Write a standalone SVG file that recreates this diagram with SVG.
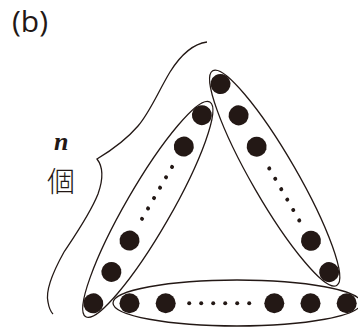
<svg xmlns="http://www.w3.org/2000/svg" width="358" height="329" viewBox="0 0 358 329">
<style>
.ring{fill:none;stroke:#231815;stroke-width:1.3}
.dot{fill:#231815}
.sm{fill:#231815}
.lbl{fill:#231815}
</style>
<rect width="358" height="329" fill="#ffffff"/>
<text class="lbl" x="12" y="32" font-family="'Open Sans', 'Noto Sans', sans-serif" font-size="30">(b)</text>
<g id="label-n">
<text class="lbl" x="54" y="150" font-family="'Liberation Serif', serif" font-style="italic" font-weight="bold" font-size="26">n</text>
<text class="lbl" x="47" y="192" font-family="'Noto Sans CJK JP', 'Noto Sans CJK SC', sans-serif" font-size="28" font-weight="300">個</text>
</g>
<g id="connectors">
<path id="brace" class="ring" d="M207,42 C192,44 180,56 170,72 C158,92 150,112 138,126 C126,140 112,150 97,159 C104,168 103,180 98,194 C90,214 76,234 64,252 C54,270 45,290 48,302 C49,308 50,311 53,314"/>
</g>
<g id="group-left">
<ellipse class="ring" cx="0" cy="0" rx="124" ry="22.5" transform="translate(147.8,209.4) rotate(-60)"/>
<g transform="translate(93.3,303.3) rotate(-60)">
<circle class="dot" cx="0" cy="0" r="10"/>
<circle class="dot" cx="36.2" cy="0" r="10"/>
<circle class="dot" cx="72.4" cy="0" r="10"/>
<circle class="sm" cx="97.5" cy="0" r="2"/>
<circle class="sm" cx="109.5" cy="0" r="2"/>
<circle class="sm" cx="121.5" cy="0" r="2"/>
<circle class="sm" cx="133.5" cy="0" r="2"/>
<circle class="sm" cx="145.5" cy="0" r="2"/>
<circle class="sm" cx="157.5" cy="0" r="2"/>
<circle class="dot" cx="181" cy="0" r="10"/>
<circle class="dot" cx="217.2" cy="0" r="10"/>
</g>
</g>
<g id="group-right">
<ellipse class="ring" cx="0" cy="0" rx="124" ry="22.5" transform="translate(274.7,178.1) rotate(60)"/>
<g transform="translate(220.5,84) rotate(60)">
<circle class="dot" cx="0" cy="0" r="10"/>
<circle class="dot" cx="36.2" cy="0" r="10"/>
<circle class="dot" cx="72.4" cy="0" r="10"/>
<circle class="sm" cx="97.5" cy="0" r="2"/>
<circle class="sm" cx="109.5" cy="0" r="2"/>
<circle class="sm" cx="121.5" cy="0" r="2"/>
<circle class="sm" cx="133.5" cy="0" r="2"/>
<circle class="sm" cx="145.5" cy="0" r="2"/>
<circle class="sm" cx="157.5" cy="0" r="2"/>
<circle class="dot" cx="181" cy="0" r="10"/>
<circle class="dot" cx="217.2" cy="0" r="10"/>
</g>
</g>
<g id="group-bottom">
<ellipse class="ring" cx="237" cy="303" rx="124" ry="23"/>
<g transform="translate(346.7,303.3) rotate(180)">
<circle class="dot" cx="0" cy="0" r="10"/>
<circle class="dot" cx="36.2" cy="0" r="10"/>
<circle class="dot" cx="72.4" cy="0" r="10"/>
<circle class="sm" cx="97.5" cy="0" r="2"/>
<circle class="sm" cx="109.5" cy="0" r="2"/>
<circle class="sm" cx="121.5" cy="0" r="2"/>
<circle class="sm" cx="133.5" cy="0" r="2"/>
<circle class="sm" cx="145.5" cy="0" r="2"/>
<circle class="sm" cx="157.5" cy="0" r="2"/>
<circle class="dot" cx="181" cy="0" r="10"/>
<circle class="dot" cx="217.2" cy="0" r="10"/>
</g>
</g>
</svg>
